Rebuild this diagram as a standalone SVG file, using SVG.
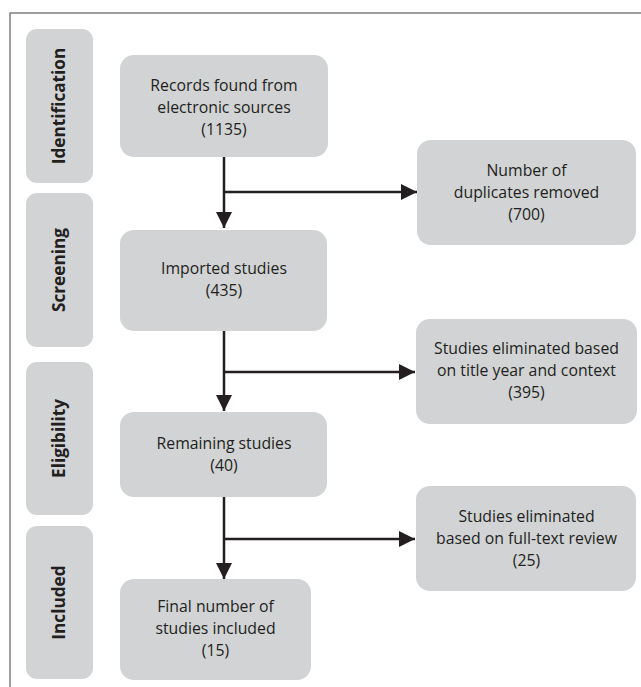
<svg xmlns="http://www.w3.org/2000/svg" width="641" height="687" viewBox="0 0 641 687">
<style>
.box{fill:#d1d3d4;}
.t{font-family:"Open Sans","DejaVu Sans",sans-serif;font-size:15.8px;fill:#231f20;text-anchor:middle;}
.s{font-family:"Open Sans","DejaVu Sans",sans-serif;font-size:17.2px;font-weight:bold;fill:#231f20;text-anchor:middle;}
.c{stroke:#231f20;stroke-width:2.5;fill:none;}
</style>
<defs>
<marker id="ah" markerUnits="userSpaceOnUse" markerWidth="16" markerHeight="16" viewBox="0 0 16 16" refX="16" refY="8" orient="auto">
<path d="M0,0 L16,8 L0,16 Z" fill="#231f20"/>
</marker>
</defs>
<rect width="641" height="687" fill="#ffffff"/>
<path d="M10,687 L10,13 L641,13" fill="none" stroke="#808080" stroke-width="1.5"/>
<g id="stage-identification"><rect class="box" x="26" y="29" width="67" height="154" rx="11"/><text class="s" transform="translate(65,106) rotate(-90)">Identification</text></g>
<g id="stage-screening"><rect class="box" x="26" y="193" width="67" height="154" rx="11"/><text class="s" transform="translate(65,270) rotate(-90)">Screening</text></g>
<g id="stage-eligibility"><rect class="box" x="26" y="362" width="67" height="153" rx="11"/><text class="s" transform="translate(65,438.5) rotate(-90)">Eligibility</text></g>
<g id="stage-included"><rect class="box" x="26" y="526" width="67" height="153" rx="11"/><text class="s" transform="translate(65,602.5) rotate(-90)">Included</text></g>
<g id="n-records"><rect class="box" x="120" y="55" width="208" height="102" rx="14"/><text class="t" x="224" y="91">Records found from</text><text class="t" x="224" y="113">electronic sources</text><text class="t" x="224" y="135">(1135)</text></g>
<g id="n-duplicates"><rect class="box" x="417" y="140" width="219" height="105" rx="14"/><text class="t" x="526.5" y="176">Number of</text><text class="t" x="526.5" y="198">duplicates removed</text><text class="t" x="526.5" y="220">(700)</text></g>
<g id="n-imported"><rect class="box" x="120" y="230" width="207" height="101" rx="14"/><text class="t" x="224" y="274">Imported studies</text><text class="t" x="224" y="296">(435)</text></g>
<g id="n-elim-title"><rect class="box" x="416" y="319" width="221" height="105" rx="14"/><text class="t" x="526.5" y="354">Studies eliminated based</text><text class="t" x="526.5" y="376">on title year and context</text><text class="t" x="526.5" y="398">(395)</text></g>
<g id="n-remaining"><rect class="box" x="120" y="412" width="207" height="85" rx="14"/><text class="t" x="224" y="449">Remaining studies</text><text class="t" x="224" y="471">(40)</text></g>
<g id="n-elim-full"><rect class="box" x="416" y="486" width="220" height="105" rx="14"/><text class="t" x="526.5" y="522">Studies eliminated</text><text class="t" x="526.5" y="544">based on full-text review</text><text class="t" x="526.5" y="566">(25)</text></g>
<g id="n-final"><rect class="box" x="120" y="579" width="191" height="101" rx="14"/><text class="t" x="215.5" y="612">Final number of</text><text class="t" x="215.5" y="634">studies included</text><text class="t" x="215.5" y="656">(15)</text></g>
<g id="connectors">
<path class="c" d="M224,157 L224,228" marker-end="url(#ah)"/>
<path class="c" d="M224,192 L417,192" marker-end="url(#ah)"/>
<path class="c" d="M224,331 L224,411" marker-end="url(#ah)"/>
<path class="c" d="M224,372 L415,372" marker-end="url(#ah)"/>
<path class="c" d="M224,497 L224,579" marker-end="url(#ah)"/>
<path class="c" d="M224,539 L415,539" marker-end="url(#ah)"/>
</g>
</svg>
